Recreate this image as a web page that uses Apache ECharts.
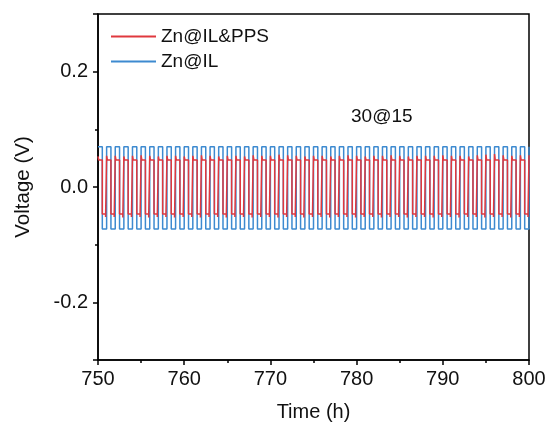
<!DOCTYPE html>
<html><head><meta charset="utf-8">
<script src="https://cdn.jsdelivr.net/npm/echarts@6/dist/echarts.min.js"></script>
<style>html,body{margin:0;padding:0;background:#fff}#c{width:550px;height:427px}</style>
</head><body><div id="c"></div>
<script>
// cycle start times (h), one charge/discharge cycle per hour
const cycleStart = [750,751,752,753,754,755,756,757,758,759,760,761,762,763,764,765,766,767,768,769,770,771,772,773,774,775,776,777,778,779,780,781,782,783,784,785,786,787,788,789,790,791,792,793,794,795,796,797,798,799];
// Zn@IL (blue) plateau voltages per cycle
const blueUpper = [0.070,0.070,0.070,0.070,0.070,0.070,0.070,0.070,0.070,0.070,0.070,0.070,0.070,0.070,0.070,0.070,0.070,0.070,0.070,0.070,0.070,0.070,0.070,0.070,0.070,0.070,0.070,0.070,0.070,0.070,0.070,0.070,0.070,0.070,0.070,0.070,0.070,0.070,0.070,0.070,0.070,0.070,0.070,0.070,0.070,0.070,0.070,0.070,0.070,0.070];
const blueLower = [-0.073,-0.073,-0.073,-0.073,-0.073,-0.073,-0.073,-0.073,-0.073,-0.073,-0.073,-0.073,-0.073,-0.073,-0.073,-0.073,-0.073,-0.073,-0.073,-0.073,-0.073,-0.073,-0.073,-0.073,-0.073,-0.073,-0.073,-0.073,-0.073,-0.073,-0.073,-0.073,-0.073,-0.073,-0.073,-0.073,-0.073,-0.073,-0.073,-0.073,-0.073,-0.073,-0.073,-0.073,-0.073,-0.073,-0.073,-0.073,-0.073,-0.073];
// Zn@IL&PPS (red): initial peak, plateau, negative plateau, end-of-stripping tail
const redPeak  = [0.053,0.054,0.054,0.053,0.054,0.055,0.054,0.053,0.054,0.054,0.053,0.054,0.055,0.054,0.053,0.054,0.054,0.053,0.055,0.054,0.054,0.056,0.055,0.054,0.053,0.054,0.054,0.053,0.054,0.055,0.054,0.053,0.054,0.054,0.055,0.054,0.053,0.054,0.054,0.054,0.055,0.054,0.054,0.053,0.055,0.056,0.057,0.055,0.054,0.055];
const redUpper = [0.047,0.047,0.047,0.047,0.047,0.047,0.047,0.047,0.047,0.047,0.047,0.047,0.047,0.047,0.047,0.047,0.047,0.047,0.047,0.047,0.047,0.047,0.047,0.047,0.047,0.047,0.047,0.047,0.047,0.047,0.047,0.047,0.047,0.047,0.047,0.047,0.047,0.047,0.047,0.047,0.047,0.047,0.047,0.047,0.047,0.047,0.047,0.047,0.047,0.047];
const redLower = [-0.047,-0.047,-0.047,-0.047,-0.047,-0.047,-0.047,-0.047,-0.047,-0.047,-0.047,-0.047,-0.047,-0.047,-0.047,-0.047,-0.047,-0.047,-0.047,-0.047,-0.047,-0.047,-0.047,-0.047,-0.047,-0.047,-0.047,-0.047,-0.047,-0.047,-0.047,-0.047,-0.047,-0.047,-0.047,-0.047,-0.047,-0.047,-0.047,-0.047,-0.047,-0.047,-0.047,-0.047,-0.047,-0.047,-0.047,-0.047,-0.047,-0.047];
const redTail  = [-0.052,-0.052,-0.053,-0.052,-0.052,-0.053,-0.052,-0.052,-0.053,-0.052,-0.052,-0.053,-0.052,-0.052,-0.053,-0.052,-0.052,-0.053,-0.052,-0.052,-0.053,-0.052,-0.052,-0.053,-0.052,-0.052,-0.053,-0.052,-0.052,-0.053,-0.052,-0.052,-0.053,-0.052,-0.052,-0.053,-0.052,-0.052,-0.053,-0.052,-0.052,-0.053,-0.052,-0.052,-0.053,-0.052,-0.052,-0.053,-0.052,-0.052];
const xTicks = [750,760,770,780,790,800];
const yTicks = [-0.2,0.0,0.2];
const seriesNames = ['Zn@IL&PPS','Zn@IL'];
const annotation = '30@15';

const blueData = [], redData = [];
cycleStart.forEach((t,i)=>{
  blueData.push([t, blueUpper[i]], [t+0.5, blueLower[i]]);
  redData.push([t, redPeak[i]], [t+0.08, redUpper[i]], [t+0.5, redLower[i]], [t+0.88, redTail[i]]);
});
blueData.push([800, blueUpper[blueUpper.length-1]]);
redData.push([800, redPeak[redPeak.length-1]]);

const FONT = '"Liberation Sans", Arial, sans-serif';
const chart = echarts.init(document.getElementById('c'), null, {renderer:'canvas'});
chart.setOption({
  animation:false,
  backgroundColor:'#fff',
  grid:{left:98,right:21,top:14,bottom:66,show:true,borderColor:'#000',borderWidth:1.5,backgroundColor:'transparent'},
  legend:{
    orient:'vertical',left:106,top:22,itemWidth:45,itemHeight:2,itemGap:6,icon:'rect',
    textStyle:{fontFamily:FONT,fontSize:19,color:'#111',lineHeight:19},
    data:seriesNames
  },
  xAxis:{
    type:'value',min:750,max:800,interval:10,
    name:'Time (h)',nameLocation:'middle',nameGap:42,
    nameTextStyle:{fontFamily:FONT,fontSize:20,color:'#111'},
    axisLine:{onZero:false,lineStyle:{color:'#000',width:1.5}},
    axisTick:{inside:false,length:5,lineStyle:{color:'#000',width:1.5}},
    minorTick:{show:true,splitNumber:2,length:3,lineStyle:{color:'#000',width:1.5}},
    splitLine:{show:false},
    axisLabel:{fontFamily:FONT,fontSize:20,color:'#111',margin:9,
      formatter:v=>xTicks.includes(v)?String(v):''}
  },
  yAxis:{
    type:'value',min:-0.3,max:0.3,splitNumber:3,
    name:'Voltage (V)',nameLocation:'middle',nameGap:64,
    nameTextStyle:{fontFamily:FONT,fontSize:20.5,color:'#111'},
    axisLine:{onZero:false,lineStyle:{color:'#000',width:1.5}},
    axisTick:{inside:false,length:5,lineStyle:{color:'#000',width:1.5}},
    minorTick:{show:true,splitNumber:2,length:3,lineStyle:{color:'#000',width:1.5}},
    splitLine:{show:false},
    axisLabel:{fontFamily:FONT,fontSize:20,color:'#111',margin:10,
      formatter:v=>{const m=yTicks.find(y=>Math.abs(y-v)<1e-6);return m===undefined?'':m.toFixed(1);}}
  },
  series:[
    {name:seriesNames[0],type:'line',step:'end',data:redData,showSymbol:false,symbol:'none',z:4,
     lineStyle:{color:'#e0383e',width:1.5},itemStyle:{color:'#e0383e'}},
    {name:seriesNames[1],type:'line',step:'end',data:blueData,showSymbol:false,symbol:'none',z:3,
     lineStyle:{color:'#3d8ad0',width:1.5},itemStyle:{color:'#3d8ad0'}}
  ],
  graphic:[{type:'text',left:351,top:107,style:{text:annotation,font:'19px "Liberation Sans", Arial, sans-serif',fill:'#111'}}]
});
</script></body></html>
